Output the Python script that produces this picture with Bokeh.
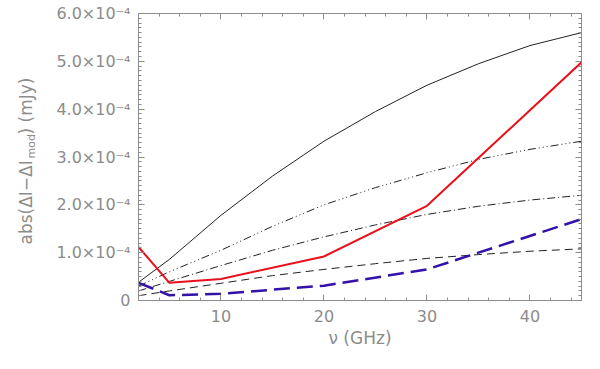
from bokeh.plotting import figure
from bokeh.models import (LinearAxis, FixedTicker, CustomJSTickFormatter, Label)
from bokeh.embed import file_html
from bokeh.resources import INLINE
import math

# ---- data ----
nu_model = [2, 5, 10, 15, 20, 25, 30, 35, 40, 45]
model_solid = [0.38e-4, 0.86e-4, 1.78e-4, 2.6e-4, 3.33e-4, 3.95e-4, 4.5e-4, 4.95e-4, 5.33e-4, 5.6e-4]
model_dash3dot = [0.30e-4, 0.60e-4, 1.05e-4, 1.55e-4, 2.0e-4, 2.36e-4, 2.67e-4, 2.95e-4, 3.16e-4, 3.33e-4]
model_dashdot = [0.20e-4, 0.40e-4, 0.73e-4, 1.05e-4, 1.33e-4, 1.58e-4, 1.80e-4, 1.97e-4, 2.10e-4, 2.20e-4]
model_dashed = [0.10e-4, 0.20e-4, 0.36e-4, 0.52e-4, 0.65e-4, 0.77e-4, 0.88e-4, 0.96e-4, 1.03e-4, 1.08e-4]

nu_obs = [2, 5, 10, 20, 30, 45]
red_vals = [1.12e-4, 0.37e-4, 0.45e-4, 0.92e-4, 1.98e-4, 4.98e-4]
blue_vals = [0.37e-4, 0.11e-4, 0.14e-4, 0.31e-4, 0.65e-4, 1.70e-4]

x_major = [10, 20, 30, 40]
x_minor = [2, 4, 6, 8, 12, 14, 16, 18, 22, 24, 26, 28, 32, 34, 36, 38, 42, 44]
y_major = [0, 1e-4, 2e-4, 3e-4, 4e-4, 5e-4, 6e-4]
y_minor = [k * 1e-5 for k in range(0, 61)]

X0, X1 = 2, 45
Y0, Y1 = 0, 6e-4

AX = "#8c8c8c"
FONT = "DejaVu Sans"

W, H = 584, 353
FL, FR, FT, FB = 132, 581, 13, 300   # frame edges in canvas pixels

p = figure(width=W, height=H, x_range=(X0, X1), y_range=(Y0, Y1),
           output_backend="svg", toolbar_location=None,
           min_border_left=FL, min_border_right=W - FR, min_border_top=FT,
           min_border_bottom=H - FB)
p.outline_line_color = None
p.xgrid.visible = False
p.ygrid.visible = False
p.background_fill_color = "white"
p.border_fill_color = "white"


def style_axis(ax, labels=True):
    ax.axis_line_color = AX
    ax.axis_line_width = 1
    ax.major_tick_line_color = AX
    ax.minor_tick_line_color = AX
    ax.major_tick_in = 6
    ax.major_tick_out = 0
    ax.minor_tick_in = 3
    ax.minor_tick_out = 0
    if labels:
        ax.major_label_text_color = AX
        ax.major_label_text_font = FONT
        ax.major_label_text_font_size = "16px"
    else:
        ax.formatter = CustomJSTickFormatter(code="return '';")
        ax.major_label_text_font_size = "1px"
        ax.major_label_standoff = 0


p.xaxis.ticker = FixedTicker(ticks=x_major, minor_ticks=x_minor)
p.yaxis.ticker = FixedTicker(ticks=y_major, minor_ticks=y_minor)
style_axis(p.xaxis[0])
style_axis(p.yaxis[0])
p.xaxis.major_label_standoff = 9
p.yaxis.major_label_standoff = 8
p.yaxis.formatter = CustomJSTickFormatter(
    code="return tick == 0 ? '0' : (tick*1e4).toFixed(1) + '\u00d710\u207b\u2074';")

p.xaxis.axis_label = "\u03bd (GHz)"
p.xaxis.axis_label_text_font = FONT
p.xaxis.axis_label_text_font_size = "17px"
p.xaxis.axis_label_text_font_style = "normal"
p.xaxis.axis_label_text_color = AX
p.xaxis.axis_label_standoff = 3

top = LinearAxis(ticker=FixedTicker(ticks=x_major, minor_ticks=x_minor))
style_axis(top, labels=False)
p.add_layout(top, "above")
right = LinearAxis(ticker=FixedTicker(ticks=y_major, minor_ticks=y_minor))
style_axis(right, labels=False)
p.add_layout(right, "right")

# curves
p.line(nu_model, model_solid, line_color="#222222", line_width=1)
p.line(nu_model, model_dash3dot, line_color="#222222", line_width=1, line_dash="8 3 1 3 1 3 1 3")
p.line(nu_model, model_dashdot, line_color="#222222", line_width=1, line_dash="8 3 1 3")
p.line(nu_model, model_dashed, line_color="#222222", line_width=1, line_dash="8 5")
p.line(nu_obs, red_vals, line_color="#e8101a", line_width=2)
p.line(nu_obs, blue_vals, line_color="#3311aa", line_width=2.5, line_dash="16 7")


# y-axis title in pieces (for the "mod" subscript); positions given in
# canvas pixels and converted to data coordinates of the frame
def px2x(px):
    return X0 + (px - FL) / (FR - FL) * (X1 - X0)


def py2y(py):
    return Y0 + (FB - py) / (FB - FT) * (Y1 - Y0)


lab_kw = dict(x_units="data", y_units="data", text_color=AX, text_font=FONT,
              angle=math.pi / 2, text_align="left", text_baseline="alphabetic")
p.add_layout(Label(x=px2x(18), y=py2y(244), text="abs(\u0394I\u2212\u0394I",
                   text_font_size="17px", **lab_kw), "left")
p.add_layout(Label(x=px2x(24), y=py2y(158), text="mod",
                   text_font_size="11px", **lab_kw), "left")
p.add_layout(Label(x=px2x(18), y=py2y(134), text=") (mJy)",
                   text_font_size="17px", **lab_kw), "left")

open("out.html", "w").write(file_html(p, INLINE))
